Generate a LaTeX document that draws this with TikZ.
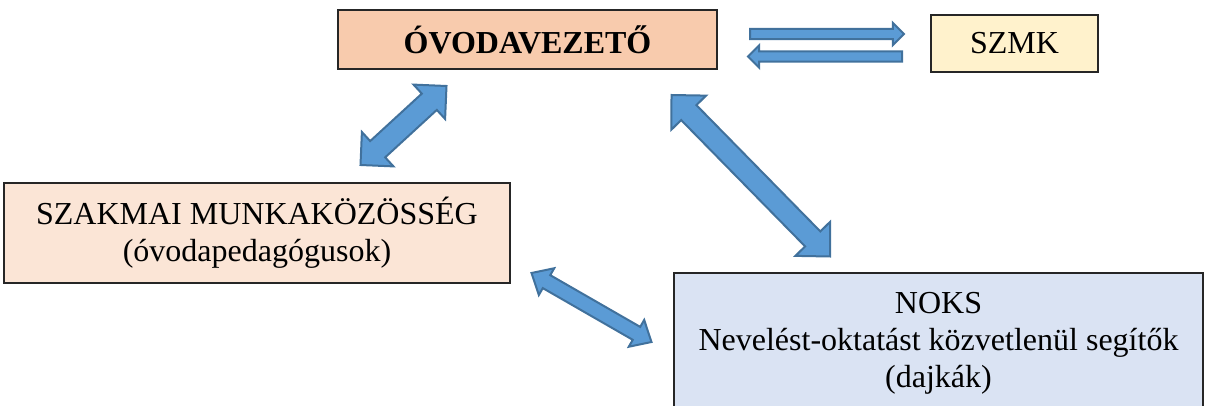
\documentclass[tikz,border=0pt]{standalone}
\usepackage{fontspec}
\setmainfont{Liberation Serif}
\usetikzlibrary{calc}
\definecolor{ovofill}{HTML}{F8CBAD}
\definecolor{szmkfill}{HTML}{FFF2CC}
\definecolor{szakfill}{HTML}{FBE5D6}
\definecolor{noksfill}{HTML}{DAE3F3}
\definecolor{arrowfill}{HTML}{5B9BD5}
\definecolor{arrowline}{HTML}{41719C}
\tikzset{
  box/.style={draw=black!85, line width=1.3pt, inner sep=0pt, align=center,
    font=\fontsize{24}{27.8}\selectfont},
  blockarrow/.style={fill=arrowfill, draw=arrowline, line width=1.5pt, line join=miter}
}
% double-headed block arrow: #1,#2 tips; #3 shaft half; #4 head half; #5 head length
\newcommand{\dblarrow}[5]{%
  \coordinate (#1h) at ($(#1)!#5!(#2)$);
  \coordinate (#2h) at ($(#2)!#5!(#1)$);
  \path[blockarrow] (#1) -- ($(#1h)!#4!90:(#2)$) -- ($(#1h)!#3!90:(#2)$)
    -- ($(#2h)!#3!-90:(#1)$) -- ($(#2h)!#4!-90:(#1)$) -- (#2)
    -- ($(#2h)!#4!90:(#1)$) -- ($(#2h)!#3!90:(#1)$)
    -- ($(#1h)!#3!-90:(#2)$) -- ($(#1h)!#4!-90:(#2)$) -- cycle;}
% single block arrow from #1 to tip #2
\newcommand{\sglarrow}[5]{%
  \coordinate (#2h) at ($(#2)!#5!(#1)$);
  \path[blockarrow] ($(#1)!#3!-90:(#2)$) -- ($(#2h)!#3!90:(#1)$)
    -- ($(#2h)!#4!90:(#1)$) -- (#2) -- ($(#2h)!#4!-90:(#1)$)
    -- ($(#2h)!#3!-90:(#1)$) -- ($(#1)!#3!90:(#2)$) -- cycle;}
\begin{document}
\begin{tikzpicture}[x=0.75pt, y=-0.75pt]
\useasboundingbox (0,0) rectangle (1208,406);
\clip (0,0) rectangle (1208,406);
\node[box, fill=ovofill, minimum width=379*0.75pt, minimum height=59*0.75pt]
  (ovo) at (527.5,39.5) {\bfseries ÓVODAVEZETŐ};
\node[box, fill=szmkfill, minimum width=167*0.75pt, minimum height=57*0.75pt]
  (szmk) at (1014.5,43.5) {SZMK};
\node[box, fill=szakfill, minimum width=506*0.75pt, minimum height=100*0.75pt]
  (szak) at (257,233) {SZAKMAI MUNKAKÖZÖSSÉG\\(óvodapedagógusok)};
\node[box, fill=noksfill, minimum width=529*0.75pt, minimum height=140*0.75pt]
  (noks) at (938.5,343) {NOKS\\Nevelést-oktatást közvetlenül segítők\\(dajkák)};
% arrow end points
\coordinate (r1) at (750,34);
\coordinate (r2) at (904,34);
\coordinate (l1) at (902,56.5);
\coordinate (l2) at (748,56.5);
\coordinate (a1) at (446.5,86);
\coordinate (b1) at (360.5,165);
\coordinate (a2) at (671.5,95);
\coordinate (b2) at (830,256.5);
\coordinate (a3) at (531.5,273);
\coordinate (b3) at (651.5,342);
\sglarrow{r1}{r2}{3.9pt}{8.4pt}{8.4pt}
\sglarrow{l1}{l2}{3.9pt}{8.4pt}{8.4pt}
\dblarrow{a1}{b1}{8.3pt}{17.5pt}{17.5pt}
\dblarrow{a2}{b2}{8pt}{18.2pt}{18.5pt}
\dblarrow{a3}{b3}{5.6pt}{11.6pt}{13pt}
\end{tikzpicture}
\end{document}
